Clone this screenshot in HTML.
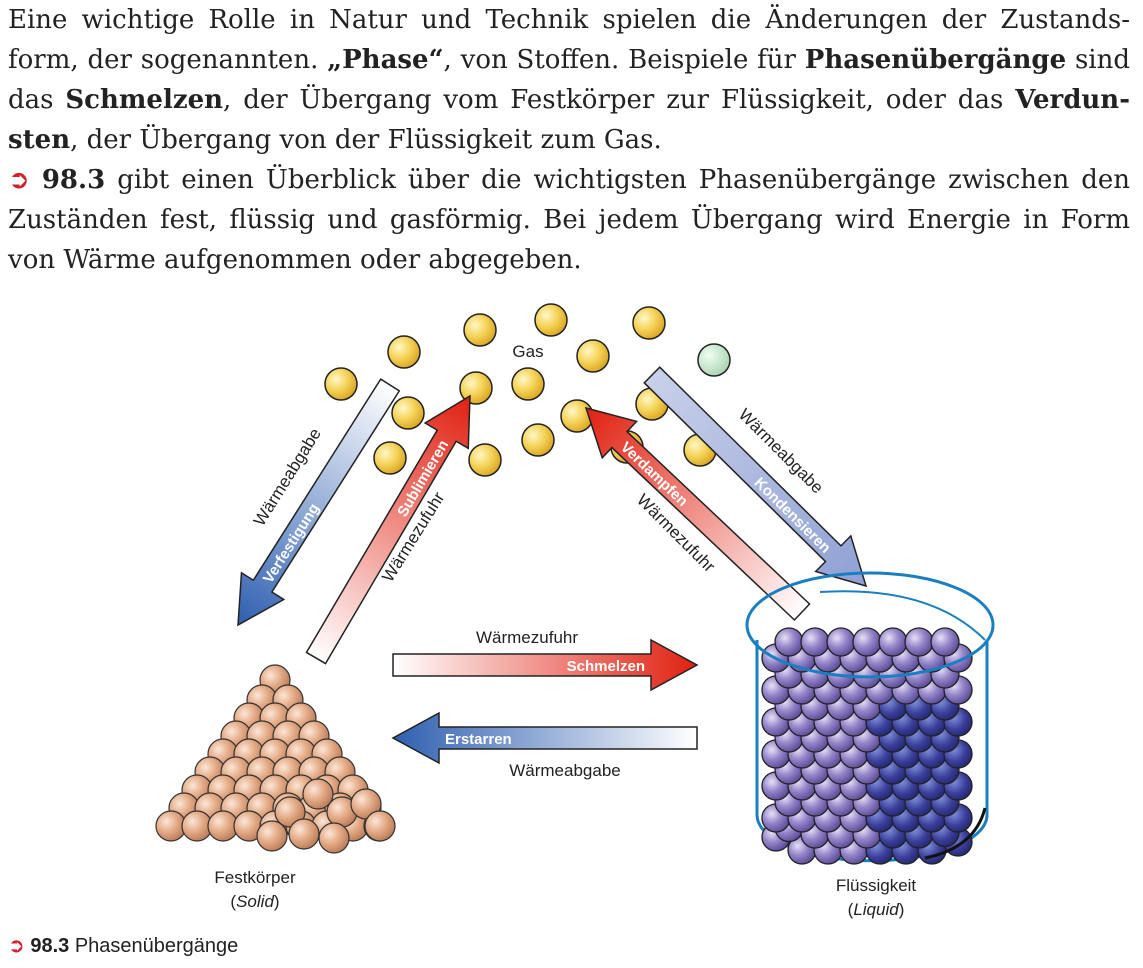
<!DOCTYPE html>
<html><head><meta charset="utf-8"><style>
html,body{margin:0;padding:0;background:#fff;width:1143px;height:968px;overflow:hidden}
#t{position:absolute;left:8px;top:0px;width:1122px;font-family:"DejaVu Serif","Liberation Serif",serif;font-size:26px;line-height:40px;color:#222}
#t div{white-space:nowrap;height:40px;line-height:40px}
#t .j{text-align:justify;text-align-last:justify;white-space:normal;overflow:hidden}
svg{position:absolute;left:0;top:0}
</style></head><body>
<div id="t">
<div class="j">Eine wichtige Rolle in Natur und Technik spielen die Änderungen der Zustands-</div>
<div class="j">form, der sogenannten. <b>„Phase“</b>, von Stoffen. Beispiele für <b>Phasenübergänge</b> sind</div>
<div class="j">das <b>Schmelzen</b>, der Übergang vom Festkörper zur Flüssigkeit, oder das <b>Verdun-</b></div>
<div><b>sten</b>, der Übergang von der Flüssigkeit zum Gas.</div>
<div class="j"><span style="color:#d0202a;font-family:'DejaVu Sans'">➲</span> <b>98.3</b> gibt einen Überblick über die wichtigsten Phasenübergänge zwischen den</div>
<div class="j">Zuständen fest, flüssig und gasförmig. Bei jedem Übergang wird Energie in Form</div>
<div>von Wärme aufgenommen oder abgegeben.</div>
</div>
<svg id="s" width="1143" height="968" xmlns="http://www.w3.org/2000/svg" font-family="Liberation Sans, sans-serif">
<defs>
<radialGradient id="gy" cx="0.35" cy="0.35" r="0.7"><stop offset="0" stop-color="#fff6c8"/><stop offset="0.5" stop-color="#f5d45a"/><stop offset="1" stop-color="#d9a420"/></radialGradient>
<radialGradient id="gg" cx="0.35" cy="0.35" r="0.7"><stop offset="0" stop-color="#f0fff0"/><stop offset="1" stop-color="#a9d3b4"/></radialGradient>
<radialGradient id="gb" cx="0.35" cy="0.35" r="0.7"><stop offset="0" stop-color="#fbe6d8"/><stop offset="0.5" stop-color="#e4ab86"/><stop offset="1" stop-color="#b87a58"/></radialGradient>
<radialGradient id="gp" cx="0.35" cy="0.35" r="0.7"><stop offset="0" stop-color="#e6e0f6"/><stop offset="0.5" stop-color="#9484c8"/><stop offset="1" stop-color="#5a4a98"/></radialGradient>
<radialGradient id="gd" cx="0.35" cy="0.35" r="0.7"><stop offset="0" stop-color="#8090d8"/><stop offset="0.6" stop-color="#3b3f9c"/><stop offset="1" stop-color="#252870"/></radialGradient>
<linearGradient id="red" x1="0" x2="1"><stop offset="0" stop-color="#fff"/><stop offset="1" stop-color="#e02010"/></linearGradient>
<linearGradient id="blu" x1="0" x2="1"><stop offset="0" stop-color="#fff"/><stop offset="1" stop-color="#2f5fb0"/></linearGradient>
<linearGradient id="lbl" x1="0" x2="1"><stop offset="0" stop-color="#c8d0ea"/><stop offset="1" stop-color="#8fa0d4"/></linearGradient>
</defs>
<g id="gas" stroke="#222" stroke-width="1.5"></g>
<text x="528" y="357" font-size="17" text-anchor="middle" fill="#222">Gas</text>
<g id="arrows" stroke="#222" stroke-width="1.5"></g>
<g id="pyr" stroke="#333" stroke-width="1.2"></g>
<g id="beak"></g>
<text x="255" y="883" font-size="17" text-anchor="middle" fill="#222">Festkörper</text>
<text x="255" y="907" font-size="17" text-anchor="middle" fill="#222">(<tspan font-style="italic">Solid</tspan>)</text>
<text x="876" y="891" font-size="17" text-anchor="middle" fill="#222">Flüssigkeit</text>
<text x="876" y="915" font-size="17" text-anchor="middle" fill="#222">(<tspan font-style="italic">Liquid</tspan>)</text>
<text x="8" y="952" font-size="20" fill="#222"><tspan fill="#d0202a" font-family="DejaVu Sans">➲</tspan> <tspan font-weight="bold">98.3</tspan> Phasenübergänge</text>
</svg>
<script>
const NS="http://www.w3.org/2000/svg";
function el(p,t,a,txt){const e=document.createElementNS(NS,t);for(const k in a)e.setAttribute(k,a[k]);if(txt)e.textContent=txt;p.appendChild(e);return e;}
const gas=document.getElementById('gas');
[[480,330],[551,320],[649,323],[404,352],[341,384],[528,384],[593,356],[476,388],[408,413],[577,416],[652,404],[700,450],[627,447],[538,440],[485,460],[390,458]].forEach(p=>el(gas,'circle',{cx:p[0],cy:p[1],r:16,fill:'url(#gy)'}));
el(gas,'circle',{cx:714,cy:360,r:16,fill:'url(#gg)'});
const A=document.getElementById('arrows');
function arrow(x1,y1,x2,y2,grad,label,lc){
 const dx=x2-x1,dy=y2-y1,L=Math.hypot(dx,dy),ang=Math.atan2(dy,dx)*180/Math.PI;
 const g=el(A,'g',{transform:`translate(${x1},${y1}) rotate(${ang})`});
 const h=46,w=11,hw=25;
 el(g,'polygon',{points:`0,${-w} ${L-h},${-w} ${L-h},${-hw} ${L},0 ${L-h},${hw} ${L-h},${w} 0,${w}`,fill:grad});
 let flip=(ang>90||ang<-90);
 const tg=el(A,'g',{transform:`translate(${x1},${y1}) rotate(${flip?ang+180:ang})`});
 if(label){el(tg,'text',{x:flip?-(L-h-6):(L-h-6),y:6,'font-size':15,'font-weight':'bold',fill:lc,'text-anchor':flip?'start':'end',stroke:'none'},label);}
}
arrow(393,665,697,665,'url(#red)','Schmelzen','#fff');
el(A,'text',{x:527,y:643,'font-size':17,'text-anchor':'middle',fill:'#222',stroke:'none'},'Wärmezufuhr');
arrow(697,738,393,738,'url(#blu)','Erstarren','#fff');
el(A,'text',{x:565,y:776,'font-size':17,'text-anchor':'middle',fill:'#222',stroke:'none'},'Wärmeabgabe');
arrow(390,385,238,625,'url(#blu)','Verfestigung','#fff');
arrow(316,658,470,396,'url(#red)','Sublimieren','#fff');
arrow(802,612,586,408,'url(#red)','Verdampfen','#fff');
arrow(652,375,866,586,'url(#lbl)','Kondensieren','#fff');
function rt(x,y,a,s){el(A,'text',{x:0,y:0,transform:`translate(${x},${y}) rotate(${a})`,'font-size':17,'text-anchor':'middle',fill:'#222',stroke:'none'},s);}
rt(292,480,-58,'Wärmeabgabe');
rt(418,540,-58,'Wärmezufuhr');
rt(672,537,45,'Wärmezufuhr');
rt(777,455,45,'Wärmeabgabe');
const P=document.getElementById('pyr');
const rows=[[275,680,1],[262,700,2],[249,718,3],[236,736,4],[223,754,5],[210,772,6],[197,790,7],[184,808,8],[171,826,9]];
rows.forEach(r=>{for(let i=0;i<r[2];i++){el(P,'circle',{cx:r[0]+i*26,cy:r[1],r:15,fill:'url(#gb)'});}});
[[290,812],[318,794],[342,812],[366,804],[304,834],[334,838],[272,836],[380,826]].forEach(p=>el(P,'circle',{cx:p[0],cy:p[1],r:15,fill:'url(#gb)'}));
const B=document.getElementById('beak');
el(B,'path',{d:'M757,640 L757,815 A113,45 0 0 0 987,815 L987,640',fill:'none',stroke:'#1a7fc0','stroke-width':3});
const bb=el(B,'g',{stroke:'#222','stroke-width':1.3});
for(let y=850;y>=640;y-=16){const off=((y/16)|0)%2?0:13;for(let x=776+off;x<=970;x+=26){const yy=y-((y>820)?Math.max(0,(Math.abs(x-872)-70))*0.5:0);el(bb,'circle',{cx:x,cy:yy,r:14,fill:(x>870&&y>690)?'url(#gd)':'url(#gp)'});}}
el(B,'ellipse',{cx:870,cy:625,rx:123,ry:52,fill:'none',stroke:'#1a7fc0','stroke-width':3});
el(B,'path',{d:'M820,592 Q930,585 985,640',fill:'none',stroke:'#1a7fc0','stroke-width':2});
el(B,'path',{d:'M925,858 Q975,848 985,808',fill:'none',stroke:'#111','stroke-width':3});
</script>
</body></html>
